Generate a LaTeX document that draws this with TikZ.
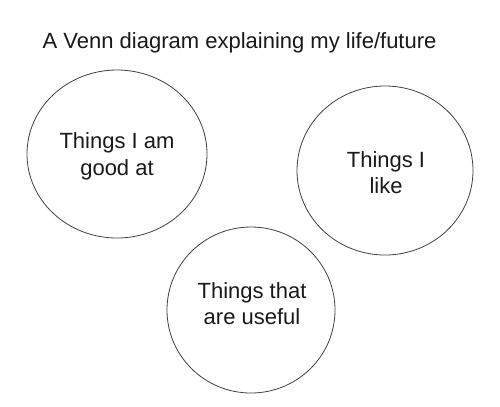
\documentclass[tikz,border=0pt]{standalone}
\usepackage{fontspec}
\setmainfont{Liberation Sans}
\usetikzlibrary{shapes.geometric}
\begin{document}
\begin{tikzpicture}[x=1bp,y=-1bp,
  setcirc/.style={draw=black!75, line width=0.8bp, ellipse, inner sep=0pt},
  lbl/.style={align=center, font=\fontsize{22bp}{26.5bp}\selectfont, text=black!90, inner sep=0pt},
  ttl/.style={font=\fontsize{22bp}{26bp}\selectfont, text=black!90, inner sep=0pt, anchor=base west}]
\useasboundingbox (0,0) rectangle (500,406);
\node[ttl] (title) at (42.5,48) {A Venn diagram explaining my life/future};
\node[setcirc, minimum width=180bp, minimum height=168bp] (good) at (117,154) {};
\node[setcirc, minimum width=176bp, minimum height=169bp] (like) at (385,170.5) {};
\node[setcirc, minimum width=168bp, minimum height=166bp] (useful) at (251,310) {};
\node[lbl, anchor=base] (tgood) at (117,175) {Things I am\\good at};
\node[lbl, anchor=base] (tlike) at (386,193.5) {Things I\\like};
\node[lbl, anchor=base] (tuseful) at (252,324.5) {Things that\\are useful};
\end{tikzpicture}
\end{document}
